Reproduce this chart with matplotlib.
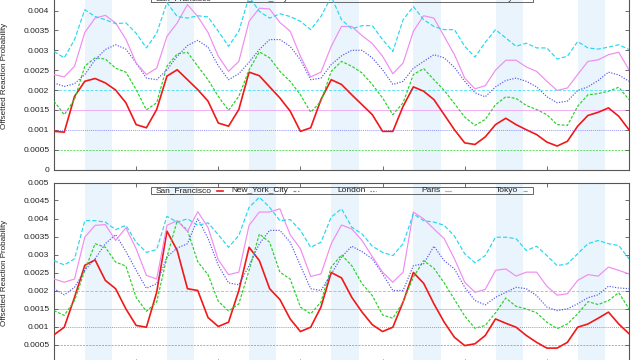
import numpy as np
import matplotlib
matplotlib.use('Agg')
import matplotlib.pyplot as plt
from matplotlib.patches import Rectangle
from matplotlib.lines import Line2D
from matplotlib.ticker import MultipleLocator, FuncFormatter, NullFormatter

# hours of the week, one reading every 3 hours
hours = np.arange(0, 169, 3)

cities = ['San_Francisco', 'New_York_City', 'London', 'Paris', 'Tokyo']
offsets = [0.0, 0.0005, 0.001, 0.0015, 0.002]

# offsetted values, in units of 1e-4 (upper panel)
sf_top = [9.6, 9.4, 18.4, 22.2, 22.9, 21.8, 20.0, 16.8, 11.3, 10.5, 15.1, 23.5, 25.1, 22.6, 20.1, 17.2, 11.7,
          10.9, 15.1, 24.5, 23.6, 20.8, 18.0, 14.7, 9.6, 10.5, 17.6, 22.6, 21.4, 18.8, 16.3, 13.8, 9.6,
          9.6, 15.9, 20.8, 19.7, 17.6, 13.8, 10.0, 6.7, 6.3, 8.2, 11.3, 12.9, 11.3, 10.0, 8.8, 6.9,
          5.9, 7.1, 10.9, 13.6, 14.4, 15.5, 13.4, 10.0]
nyc_top = [17.2, 13.8, 17.6, 26.0, 28.1, 27.8, 25.5, 24.5, 20.1, 15.0, 16.8, 26.0, 29.1, 29.5, 26.0, 22.6, 18.4,
           14.9, 18.4, 25.1, 29.6, 28.1, 24.7, 22.2, 18.8, 14.4, 17.2, 24.7, 27.2, 26.0, 24.3, 21.4, 18.0,
           13.8, 16.8, 23.9, 25.4, 22.6, 19.9, 16.6, 13.2, 11.1, 12.6, 16.3, 18.3, 17.9, 16.1, 15.1, 13.8,
           11.3, 11.1, 15.9, 18.8, 19.1, 19.7, 20.7, 17.6]
lon_top = [21.8, 20.9, 21.6, 23.9, 27.6, 30.2, 31.4, 30.3, 26.8, 23.0, 22.6, 25.1, 28.5, 31.2, 32.5, 30.8, 26.1,
           22.6, 24.1, 27.0, 30.2, 32.7, 32.7, 31.0, 27.6, 22.6, 23.0, 26.4, 28.6, 30.0, 30.0, 28.1, 25.1,
           21.4, 22.2, 25.5, 27.2, 28.9, 28.1, 25.7, 22.2, 19.3, 18.3, 20.8, 22.4, 23.0, 22.2, 20.8, 18.3,
           16.8, 17.2, 19.9, 20.8, 22.4, 24.5, 23.8, 22.2]
par_top = [23.9, 23.3, 26.0, 34.5, 38.1, 38.8, 36.9, 32.8, 26.8, 23.9, 25.5, 33.5, 36.9, 41.5, 38.5, 34.5, 28.5,
           24.7, 27.2, 37.3, 40.6, 40.4, 37.0, 34.8, 28.5, 23.3, 24.5, 31.0, 36.0, 36.0, 33.7, 31.7, 28.5,
           24.1, 26.8, 34.8, 38.7, 38.1, 33.5, 28.9, 23.0, 20.3, 21.1, 25.0, 27.5, 27.5, 25.8, 24.7, 22.2,
           19.9, 20.5, 23.9, 27.2, 27.6, 28.9, 29.5, 25.1]
tok_top = [29.7, 28.1, 32.7, 40.2, 38.5, 37.7, 36.7, 36.9, 34.3, 30.6, 34.3, 42.0, 38.5, 38.1, 38.7, 38.4, 34.8,
           31.0, 34.8, 43.5, 39.8, 38.1, 39.2, 38.5, 37.3, 35.2, 38.5, 43.5, 37.7, 35.4, 36.2, 36.2, 32.7,
           29.7, 37.7, 41.0, 37.7, 36.0, 35.2, 35.2, 31.0, 28.3, 32.0, 35.2, 33.1, 31.0, 31.8, 30.6, 30.6,
           27.8, 28.5, 32.2, 30.6, 30.3, 30.8, 31.4, 30.2]

# offsetted values, in units of 1e-4 (lower panel)
sf_bot = [7.7, 9.8, 18.1, 27.0, 28.5, 22.8, 20.5, 14.9, 10.3, 9.8, 19.5, 36.5, 31.1, 20.5, 20.0, 12.5, 10.0,
          11.2, 20.0, 32.0, 28.3, 20.5, 17.5, 12.1, 8.6, 9.8, 15.4, 25.0, 23.5, 18.1, 14.0, 10.5, 8.6,
          9.8, 16.8, 25.0, 22.0, 16.3, 11.2, 7.0, 4.7, 5.2, 7.5, 12.1, 10.9, 9.8, 7.5, 5.6, 4.0,
          4.0, 5.6, 9.8, 10.7, 12.3, 14.0, 10.7, 8.0]
nyc_bot = [14.4, 13.1, 17.2, 25.6, 33.0, 32.0, 27.9, 26.8, 18.1, 14.2, 16.8, 29.3, 39.4, 36.7, 28.0, 24.4, 17.0,
           14.3, 16.3, 25.6, 35.7, 33.4, 25.1, 23.2, 15.4, 13.5, 16.8, 26.5, 29.9, 26.9, 21.9, 18.6, 13.2,
           12.3, 16.8, 23.7, 28.3, 26.2, 22.1, 17.5, 12.9, 9.5, 10.3, 13.8, 17.9, 15.6, 14.9, 13.8, 11.2,
           9.4, 10.7, 13.5, 16.9, 16.1, 17.2, 19.4, 14.9]
lon_bot = [20.5, 18.8, 20.9, 25.6, 28.8, 33.0, 35.5, 30.9, 25.6, 20.6, 21.9, 29.3, 31.8, 33.0, 40.0, 34.5, 27.0,
           22.1, 21.6, 26.9, 33.0, 36.7, 36.7, 33.4, 26.9, 20.5, 20.0, 24.6, 29.3, 32.3, 30.8, 28.8, 24.6,
           20.0, 20.0, 26.9, 27.4, 32.3, 28.3, 26.0, 20.9, 17.2, 16.0, 18.1, 19.5, 20.9, 20.5, 18.6, 15.4,
           14.4, 14.9, 16.3, 18.0, 18.8, 21.2, 20.7, 20.5]
par_bot = [23.2, 22.3, 23.2, 34.8, 38.1, 38.3, 33.9, 37.4, 31.6, 24.2, 23.2, 38.1, 39.4, 36.4, 41.9, 37.5, 28.5,
           24.4, 25.1, 38.1, 41.8, 41.8, 42.7, 35.5, 31.6, 23.9, 24.6, 33.0, 38.2, 37.1, 33.9, 29.4, 25.1,
           22.3, 25.1, 41.8, 39.9, 37.1, 34.4, 28.8, 22.3, 19.5, 20.3, 25.6, 26.0, 24.0, 25.1, 25.1, 21.2,
           18.7, 19.1, 22.8, 24.4, 24.0, 26.5, 25.6, 24.6]
tok_bot = [28.3, 27.1, 28.8, 39.4, 39.4, 39.0, 36.9, 38.1, 33.4, 30.6, 31.4, 40.6, 39.0, 39.9, 38.1, 38.8, 35.5,
           32.0, 35.3, 43.1, 45.9, 43.1, 39.4, 39.7, 36.7, 32.0, 33.4, 40.4, 42.7, 37.6, 35.7, 32.3, 30.6,
           29.7, 33.0, 41.3, 39.4, 39.0, 38.1, 35.1, 30.2, 27.7, 29.7, 34.8, 34.8, 34.4, 31.1, 32.3, 29.7,
           26.9, 27.4, 30.2, 33.0, 33.9, 33.0, 32.5, 28.8]

colors = ['#f01818', '#28d028', '#5454f0', '#f08cf0', '#22d8f0']
styles = [dict(lw=1.2, ls='-'),
          dict(lw=0.85, dashes=(2.4, 1.4)),
          dict(lw=0.85, dashes=(1.0, 1.3)),
          dict(lw=0.85, ls='-'),
          dict(lw=0.85, dashes=(3.6, 1.8))]

W, H = 640, 360


def px_box(left, top, right, bottom):
    return [left / W, 1 - bottom / H, (right - left) / W, (bottom - top) / H]


def draw_key(ax, h_px):
    # gnuplot style key: text right aligned, short sample after it
    x0, x1 = 54, 629
    fx = lambda x: (x - x0) / (x1 - x0)
    ytop = 1 - 4.4 / h_px
    ybot = 1 - 11.7 / h_px
    ax.add_patch(Rectangle((fx(150.7), ybot), fx(532.7) - fx(150.7), ytop - ybot,
                           transform=ax.transAxes, fill=False, lw=0.7, ec='#666666', zorder=1))
    ends = [212, 288.3, 365.3, 440.7, 518.3]
    yc = 1 - 8.0 / h_px
    for name, xe, c, st in zip(cities, ends, colors, styles):
        ax.text(fx(xe), yc, name, transform=ax.transAxes, ha='right', va='center',
                fontsize=6, color='#222222', zorder=1)
        ax.add_line(Line2D([fx(xe + 4.5), fx(xe + 10.5)], [yc, yc], transform=ax.transAxes,
                           color=c, zorder=1, **st))


def panel(ax, series, ymax, h_px):
    for d in range(7):
        ax.axvspan(24 * d + 9, 24 * d + 17, color='#eaf4fd', lw=0, zorder=0)
    for off, c, st in zip(offsets[1:], colors[1:], styles[1:]):
        ref = dict(st)
        ref['lw'] = 0.6
        ax.axhline(off, color=c, alpha=0.8, zorder=1, **ref)
    for vals, c, st in zip(series, colors, styles):
        ax.plot(hours, np.array(vals) * 1e-4, color=c, zorder=3, **st)
    ax.set_xlim(0, 168)
    ax.set_ylim(0, ymax)
    ax.xaxis.set_major_locator(MultipleLocator(24))
    ax.xaxis.set_major_formatter(NullFormatter())
    ax.yaxis.set_major_locator(MultipleLocator(0.0005))
    ax.yaxis.set_major_formatter(FuncFormatter(lambda v, p: '%g' % round(v, 6)))
    ax.tick_params(direction='in', length=2.6, width=0.6, color='#555555',
                   top=True, right=True, labelsize=6, labelcolor='#222222', pad=3.4)
    for s in ax.spines.values():
        s.set_color('#555555')
        s.set_linewidth(0.8)
    ax.set_ylabel('Offsetted Reaction Probability', fontsize=5.8, color='#222222')
    draw_key(ax, h_px)


def main():
    plt.rcParams['font.family'] = ['Liberation Sans', 'DejaVu Sans']
    fig = plt.figure(figsize=(6.4, 3.6), dpi=100)

    ax1 = fig.add_axes(px_box(54, -9.3, 629, 169.5))
    panel(ax1, [sf_top, nyc_top, lon_top, par_top, tok_top], 0.0045, 178.8)
    ax1.yaxis.set_label_coords(-0.0793, 0.525)

    ax2 = fig.add_axes(px_box(54, 182.5, 629, 362.5))
    panel(ax2, [sf_bot, nyc_bot, lon_bot, par_bot, tok_bot], 0.005, 180.0)
    ax2.yaxis.set_label_coords(-0.0793, 0.5)

    fig.savefig('out.png', dpi=100)


if __name__ == "__main__":
    main()
